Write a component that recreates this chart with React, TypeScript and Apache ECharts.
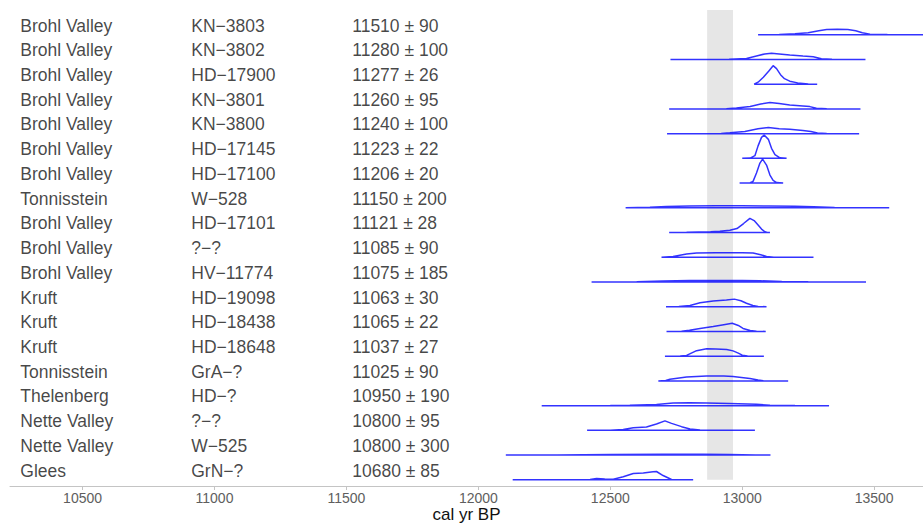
import React, { useEffect, useRef } from "react";
import * as echarts from "echarts";

// ---- data ----
const sites = [
  "Brohl Valley", "Brohl Valley", "Brohl Valley", "Brohl Valley", "Brohl Valley",
  "Brohl Valley", "Brohl Valley", "Tonnisstein", "Brohl Valley", "Brohl Valley",
  "Brohl Valley", "Kruft", "Kruft", "Kruft", "Tonnisstein",
  "Thelenberg", "Nette Valley", "Nette Valley", "Glees",
];
const labCodes = [
  "KN\u22123803", "KN\u22123802", "HD\u221217900", "KN\u22123801", "KN\u22123800",
  "HD\u221217145", "HD\u221217100", "W\u2212528", "HD\u221217101", "?\u2212?",
  "HV\u221211774", "HD\u221219098", "HD\u221218438", "HD\u221218648", "GrA\u2212?",
  "HD\u2212?", "?\u2212?", "W\u2212525", "GrN\u2212?",
];
const c14Ages = [11510, 11280, 11277, 11260, 11240, 11223, 11206, 11150, 11121, 11085,
  11075, 11063, 11065, 11037, 11025, 10950, 10800, 10800, 10680];
const c14Errors = [90, 100, 26, 95, 100, 22, 20, 200, 28, 90, 185, 30, 22, 27, 90, 190, 95, 300, 85];

// calibrated distributions: [cal yr BP, relative probability]
const densities: [number, number][][] = [
  [[13060, 0], [13140, 0.3], [13200, 0.9], [13250, 2], [13290, 4], [13320, 5.2], [13360, 5.6], [13400, 5.3], [13430, 4], [13455, 2], [13484, 0.6], [13550, 0.2], [13620, 0], [13760, 0]],
  [[12728, 0], [12950, 0.2], [13016, 1], [13054, 3.5], [13085, 5.5], [13111, 6.2], [13140, 5.5], [13180, 4.5], [13230, 3.5], [13269, 2.8], [13300, 0.8], [13340, 0.1], [13467, 0]],
  [[13045, 0], [13060, 2], [13080, 7], [13100, 13], [13117, 18.5], [13130, 15.5], [13145, 9.5], [13160, 5.5], [13180, 3], [13210, 1.3], [13250, 0.3], [13284, 0]],
  [[12723, 0], [12940, 0.2], [12978, 0.8], [13030, 2.5], [13070, 5], [13105, 6.3], [13140, 5.3], [13180, 4], [13230, 3], [13256, 2.3], [13281, 0.7], [13320, 0.1], [13448, 0]],
  [[12715, 0], [12920, 0.2], [12953, 0.8], [13010, 2.2], [13060, 4.8], [13099, 6.2], [13140, 5], [13180, 4.3], [13230, 3.2], [13260, 2.2], [13285, 0.7], [13320, 0.1], [13443, 0]],
  [[13000, 0], [13030, 0.3], [13048, 2.7], [13060, 12.5], [13073, 21], [13083, 23.3], [13099, 19], [13111, 10], [13124, 3.7], [13143, 0.5], [13168, 0]],
  [[12990, 0], [13030, 0.3], [13041, 1.7], [13054, 10], [13067, 20], [13077, 24], [13092, 18], [13105, 8], [13117, 2.7], [13130, 0.5], [13155, 0]],
  [[12558, 0], [12650, 0.5], [12713, 1.3], [12800, 1.8], [12900, 2], [13000, 2], [13100, 1.8], [13200, 1.5], [13270, 1], [13350, 0.3], [13557, 0]],
  [[12723, 0], [12789, 0.3], [12880, 0.8], [12915, 1.2], [12953, 2.2], [12980, 4], [13005, 9], [13029, 14.2], [13045, 12], [13060, 7.5], [13073, 3.5], [13086, 0.8], [13095, 0], [13105, 0]],
  [[12694, 0], [12738, 0.8], [12789, 3.2], [12827, 4.3], [12900, 4.5], [13000, 4.5], [13041, 4.2], [13070, 2.5], [13092, 0.8], [13120, 0.1], [13270, 0]],
  [[12429, 0], [12600, 0.3], [12700, 1], [12800, 1.4], [12900, 1.5], [13000, 1.4], [13067, 1.2], [13150, 0.5], [13250, 0.2], [13469, 0]],
  [[12711, 0], [12760, 0.3], [12802, 1.2], [12840, 4], [12890, 5.8], [12940, 6.8], [12970, 7.6], [12995, 6], [13016, 3.5], [13040, 1.2], [13060, 0.2], [13092, 0]],
  [[12713, 0], [12770, 0.3], [12800, 1.2], [12840, 3], [12890, 5], [12930, 6.8], [12962, 8.2], [12985, 6], [13003, 3], [13030, 1], [13054, 0.2], [13089, 0]],
  [[12707, 0], [12765, 0.2], [12789, 0.8], [12827, 5.5], [12865, 7.5], [12900, 7.2], [12941, 6.7], [12965, 5.3], [12985, 3], [13000, 1], [13020, 0.2], [13082, 0]],
  [[12682, 0], [12710, 0.5], [12726, 1.7], [12789, 4], [12865, 5], [12930, 4.8], [12965, 4.3], [13029, 2.3], [13060, 0.8], [13080, 0.2], [13174, 0]],
  [[12240, 0], [12500, 0.1], [12574, 0.4], [12675, 1.2], [12738, 2.6], [12800, 2.8], [12865, 2.7], [12950, 2.2], [13054, 1.3], [13105, 0.4], [13200, 0.1], [13329, 0]],
  [[12412, 0], [12500, 0.2], [12549, 0.8], [12587, 2.7], [12637, 3.4], [12675, 6.3], [12707, 9.5], [12732, 7], [12770, 3.7], [12802, 1.4], [12840, 0.3], [12900, 0], [13048, 0]],
  [[12104, 0], [12300, 0.2], [12500, 0.6], [12700, 0.9], [12850, 0.8], [12950, 0.5], [13050, 0.2], [13107, 0]],
  [[12130, 0], [12380, 0.1], [12423, 0.4], [12448, 1.3], [12479, 0.7], [12511, 0.5], [12549, 3], [12587, 6.3], [12625, 6.7], [12662, 8], [12675, 8.3], [12700, 4.3], [12732, 0.3], [12745, 0], [12814, 0]],
];

const bandRange = [12867, 12965];
const xTicks = [10500, 11000, 11500, 12000, 12500, 13000, 13500];
const xRange = [10225, 13685];
// x positions (cal yr BP) of the three text columns
const colSite = 10262;
const colLab = 10910;
const colAge = 11520;

const FONT = "'Liberation Sans', Arial, Helvetica, sans-serif";

export default function App() {
  const ref = useRef<HTMLDivElement>(null);

  useEffect(() => {
    if (!ref.current) return;
    const chart = echarts.init(ref.current, null, { renderer: "svg" });
    const n = sites.length;
    const hScale = 1 / 24.72;

    const lineSeries: any[] = densities.map((d, i) => {
      const base = n - 1 - i;
      const pts = d.map(([x, h]) => [x, base + h * hScale]);
      pts.push([d[0][0], base]);
      return {
        type: "line",
        data: pts,
        symbol: "none",
        smooth: false,
        silent: true,
        z: 3,
        lineStyle: { color: "rgba(0,0,255,0.8)", width: 1.5 },
      };
    });

    const textSeries = (col: number, getText: (i: number) => string) => ({
      type: "scatter",
      data: sites.map((_, i) => [col, n - 1 - i + 0.37, getText(i)]),
      symbolSize: 1,
      silent: true,
      z: 4,
      itemStyle: { color: "transparent" },
      label: {
        show: true,
        position: "right",
        distance: 0,
        formatter: (p: any) => p.data[2],
        fontFamily: FONT,
        fontSize: 17.5,
        color: "#161616",
      },
    });

    chart.setOption({
      animation: false,
      grid: { left: 10, right: 0, top: 10, bottom: 39, containLabel: false, outerBoundsMode: "none" },
      xAxis: {
        type: "value",
        min: xRange[0],
        max: xRange[1],
        name: "cal yr BP",
        nameLocation: "middle",
        nameGap: 20,
        nameMoveOverlap: false,
        nameTextStyle: { fontFamily: FONT, fontSize: 17, color: "#111" },
        axisLine: { show: true, onZero: false, lineStyle: { color: "#c4c4c4", width: 1 } },
        axisTick: { show: true, length: 4, customValues: xTicks, lineStyle: { color: "#c4c4c4" } },
        axisLabel: {
          customValues: xTicks,
          formatter: (v: number) => String(v),
          margin: 5,
          fontFamily: FONT,
          fontSize: 14,
          color: "#5e5e5e",
        },
        splitLine: { show: false },
      },
      yAxis: { type: "value", min: -0.25, max: 19, show: false },
      series: [
        {
          type: "line",
          data: [],
          z: 1,
          silent: true,
          markArea: {
            silent: true,
            itemStyle: { color: "#e6e6e6" },
            data: [[{ xAxis: bandRange[0], yAxis: 0 }, { xAxis: bandRange[1], yAxis: 19 }]],
          },
        },
        ...lineSeries,
        textSeries(colSite, (i) => sites[i]),
        textSeries(colLab, (i) => labCodes[i]),
        textSeries(colAge, (i) => `${c14Ages[i]} \u00b1 ${c14Errors[i]}`),
      ],
    });

    return () => chart.dispose();
  }, []);

  return (
    <div
      ref={ref}
      style={{ position: "fixed", left: 0, top: 0, width: 923, height: 525, background: "#fff" }}
    />
  );
}
